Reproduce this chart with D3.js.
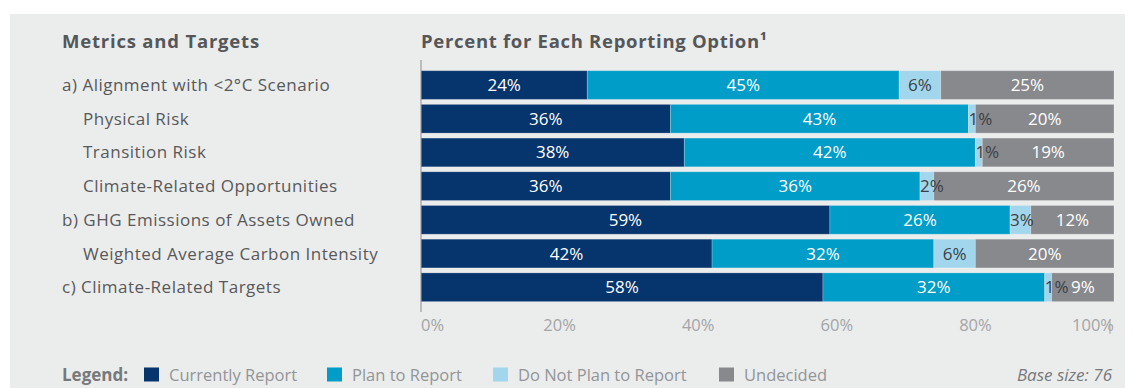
<!DOCTYPE html>
<html>
<head>
<meta charset="utf-8">
<script src="https://cdn.jsdelivr.net/npm/d3@7/dist/d3.min.js"></script>
<style>
  html, body { margin: 0; padding: 0; background: #ffffff; }
  svg { display: block; font-family: "Open Sans", "Noto Sans", sans-serif; }
</style>
</head>
<body>
<svg id="chart" width="1134" height="388"></svg>
<script>
// Reporting status for each metric (percent of respondents)
const categories = [
  "a) Alignment with <2°C Scenario",
  "Physical Risk",
  "Transition Risk",
  "Climate-Related Opportunities",
  "b) GHG Emissions of Assets Owned",
  "Weighted Average Carbon Intensity",
  "c) Climate-Related Targets"
];
const indented = [false, true, true, true, false, true, false];

const seriesNames = ["Currently Report", "Plan to Report", "Do Not Plan to Report", "Undecided"];
const currentlyReport = [24, 36, 38, 36, 59, 42, 58];
const planToReport    = [45, 43, 42, 36, 26, 32, 32];
const doNotPlan       = [6, 1, 1, 2, 3, 6, 1];
const undecided       = [25, 20, 19, 26, 12, 20, 9];

const tickValues = [0, 20, 40, 60, 80, 100];
const baseSize = 76;

const colors = ["#06346c", "#009dc8", "#a2d6ec", "#88898d"];
const labelColors = ["#ffffff", "#ffffff", "#3a3f47", "#ffffff"];

const svg = d3.select("#chart");

// panel background
svg.append("rect")
  .attr("x", 10).attr("y", 14)
  .attr("width", 1115).attr("height", 374)
  .attr("fill", "#ebecec");

const x = d3.scaleLinear().domain([0, 100]).range([421, 1114]);
const y = d3.scaleBand().domain(categories)
  .range([68.2, 304.1]).paddingInner(0.148).paddingOuter(0.074);

// headings
svg.append("text").attr("x", 62).attr("y", 48)
  .attr("font-size", 18.5).attr("font-weight", 700).attr("fill", "#555759")
  .attr("letter-spacing", 0.8)
  .text("Metrics and Targets");
svg.append("text").attr("x", x(0)).attr("y", 48)
  .attr("font-size", 18.5).attr("font-weight", 700).attr("fill", "#555759")
  .attr("letter-spacing", 0.7)
  .text("Percent for Each Reporting Option¹");

// category labels
svg.append("g").selectAll("text").data(categories).join("text")
  .attr("x", (d, i) => indented[i] ? 83 : 62)
  .attr("y", d => y(d) + y.bandwidth() / 2 + 6)
  .attr("font-size", 17).attr("fill", "#58595b")
  .attr("letter-spacing", 0.5)
  .text(d => d);

// stacked data
const seriesValues = [currentlyReport, planToReport, doNotPlan, undecided];
const rows = categories.map((c, i) => {
  const r = { category: c };
  seriesNames.forEach((s, k) => r[s] = seriesValues[k][i]);
  return r;
});
const stacked = d3.stack().keys(seriesNames)(rows);

// bar segments
const barLayer = svg.append("g");
const labelLayer = svg.append("g");

stacked.forEach(s => {
  const k = s.index;
  barLayer.append("g").selectAll("rect").data(s).join("rect")
    .attr("x", d => x(d[0]))
    .attr("y", d => y(d.data.category))
    .attr("width", d => x(d[1]) - x(d[0]))
    .attr("height", y.bandwidth())
    .attr("fill", colors[k])
    .attr("stroke", "rgba(255,255,255,0.22)")
    .attr("stroke-width", 1);
});

// value labels, drawn above every bar so narrow segments can overflow
stacked.forEach(s => {
  const k = s.index;
  labelLayer.append("g").selectAll("text").data(s).join("text")
    .attr("y", d => y(d.data.category) + y.bandwidth() / 2 + 6)
    .attr("font-size", 17)
    .attr("fill", labelColors[k])
    .text(d => (d[1] - d[0]) + "%")
    .each(function (d) {
      const w = this.getComputedTextLength();
      const segW = x(d[1]) - x(d[0]);
      const t = d3.select(this);
      if (w + 2 > segW) {
        t.attr("x", x(d[0])).attr("text-anchor", "start");
      } else {
        t.attr("x", (x(d[0]) + x(d[1])) / 2).attr("text-anchor", "middle");
      }
    });
});

// axis baseline
svg.append("line")
  .attr("x1", x(0)).attr("x2", x(0))
  .attr("y1", 60).attr("y2", 312)
  .attr("stroke", "#8c8e91").attr("stroke-width", 1);

// tick labels
svg.append("g").selectAll("text").data(tickValues).join("text")
  .attr("x", d => x(d))
  .attr("y", 331)
  .attr("font-size", 16.5).attr("fill", "#a3a5a8")
  .attr("text-anchor", d => d === 0 ? "start" : (d === 100 ? "end" : "middle"))
  .text(d => d + "%");

// end tick
svg.append("line")
  .attr("x1", x(100) - 4).attr("x2", x(100) - 4)
  .attr("y1", 320).attr("y2", 334)
  .attr("stroke", "#a3a5a8").attr("stroke-width", 1);

// legend
const legendY = 381;
svg.append("text").attr("x", 62).attr("y", legendY)
  .attr("font-size", 17).attr("font-weight", 700).attr("fill", "#77797c")
  .text("Legend:");
const legendX = [144, 327, 493, 719];
const leg = svg.append("g").selectAll("g").data(seriesNames).join("g")
  .attr("transform", (d, i) => `translate(${legendX[i]},0)`);
leg.append("rect")
  .attr("x", 0).attr("y", 367.5)
  .attr("width", 15).attr("height", 14)
  .attr("fill", (d, i) => colors[i]);
leg.append("text")
  .attr("x", 25).attr("y", legendY)
  .attr("font-size", 16.5).attr("fill", "#939598")
  .text(d => d);

svg.append("text").attr("x", 1112).attr("y", legendY)
  .attr("text-anchor", "end").attr("font-size", 17)
  .attr("font-style", "italic").attr("fill", "#77797c")
  .text("Base size: " + baseSize);
</script>
</body>
</html>
